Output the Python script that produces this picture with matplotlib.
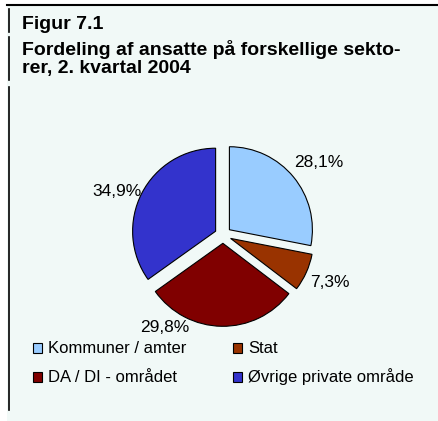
import matplotlib
matplotlib.use("Agg")
import matplotlib.pyplot as plt
from matplotlib.lines import Line2D
from matplotlib.patches import Rectangle

plt.rcParams['font.family'] = ['Liberation Sans', 'DejaVu Sans']

labels = ["Kommuner / amter", "Stat", "DA / DI - området", "Øvrige private område"]
shares = [28.1, 7.3, 29.8, 34.9]
colors = ["#99CCFF", "#993300", "#800000", "#3333CC"]
title_lines = ["Figur 7.1", "Fordeling af ansatte på forskellige sekto-", "rer, 2. kvartal 2004"]

W, H = 439, 421
fig = plt.figure(figsize=(W / 100, H / 100), dpi=100)
fig.patch.set_facecolor("white")

# panel background and frame lines
fig.add_artist(Rectangle((7 / W, 0), (438 - 7) / W, 1 - 6 / H,
                         transform=fig.transFigure, facecolor="#F1F9F7",
                         edgecolor="none", zorder=0))
fig.add_artist(Line2D([7 / W, 1], [1 - 5 / H, 1 - 5 / H], color="black", lw=1.5))
for y0, y1 in [(9, 32), (37, 80), (87, 410)]:
    fig.add_artist(Line2D([8.5 / W, 8.5 / W], [1 - y0 / H, 1 - y1 / H], color="black", lw=1.2))

# title lines (baselines in px from top)
for txt, base in zip(title_lines, [29, 55, 73]):
    fig.text(22 / W, 1 - base / H, txt, fontsize=14, fontweight="bold", va="baseline")

# pie axes: radius 83 px, centre at (223, 235) px
r = 83
L = 1.5
cx, cy = 223, 235
size = 2 * L * r
ax = fig.add_axes([(cx - size / 2) / W, (H - cy - size / 2) / H, size / W, size / H])
ax.set_facecolor("none")

pct = [("%.1f%%" % v).replace(".", ",") for v in shares]
wedges, texts = ax.pie(shares, colors=colors, startangle=90, counterclock=False,
                       explode=[0.1] * 4, labels=pct, labeldistance=1.4,
                       wedgeprops=dict(edgecolor="black", linewidth=0.8),
                       textprops=dict(fontsize=12.5, ha="center", va="center"))
# nudge labels to match the reference placement
texts[0].set_position((1.15, 0.87))
texts[1].set_position((1.29, -0.57))
texts[2].set_position((-0.70, -1.12))
texts[3].set_position((-1.28, 0.53))
ax.set_xlim(-L, L)
ax.set_ylim(-L, L)
ax.set_aspect("equal")
ax.axis("off")

# legend: 2 x 2 grid, row-wise (K, Stat / DA, Øvrige)
col_x = [33, 233]
row_base = [353, 382]
for i, (lab, col) in enumerate(zip(labels, colors)):
    x = col_x[i % 2]
    b = row_base[i // 2]
    fig.add_artist(Rectangle((x / W, 1 - (b - 0.5) / H), 9 / W, 9.5 / H,
                             transform=fig.transFigure, facecolor=col,
                             edgecolor="black", linewidth=0.8))
    fig.text((x + 15) / W, 1 - b / H, lab, fontsize=12, va="baseline")

fig.savefig("out.png", dpi=100)
